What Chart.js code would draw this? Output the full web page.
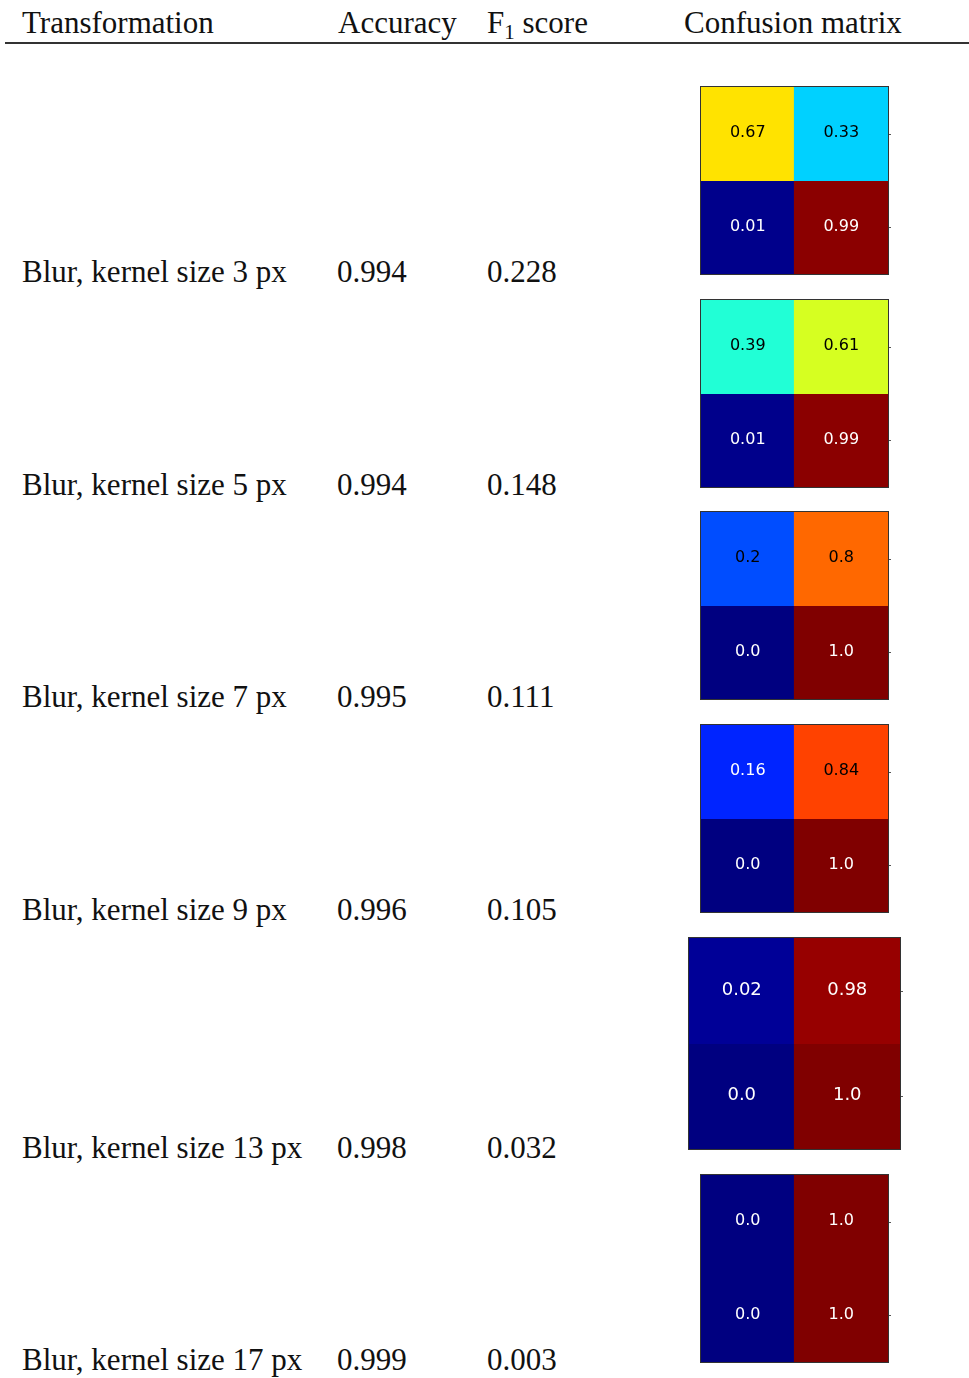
<!DOCTYPE html>
<html>
<head>
<meta charset="utf-8">
<script src="https://cdn.jsdelivr.net/npm/chart.js@4.4.1/dist/chart.umd.min.js"></script>
<style>
  html, body { margin: 0; padding: 0; background: #fff; }
  body { width: 969px; height: 1378px; position: relative; overflow: hidden;
         font-family: "Liberation Serif", "DejaVu Serif", serif; color: #111; }
  .t { position: absolute; height: 0; line-height: 0; font-size: 31px; white-space: nowrap; }
  .t sub { font-size: 21px; vertical-align: -6px; line-height: 0; }
  .rule { position: absolute; left: 5px; top: 42px; width: 964px; height: 1.6px; background: #333; }
  canvas.cm { position: absolute; }
</style>
</head>
<body>
<div class="rule"></div>
<script>
// table columns
const transformations = [
  'Blur, kernel size 3 px', 'Blur, kernel size 5 px', 'Blur, kernel size 7 px',
  'Blur, kernel size 9 px', 'Blur, kernel size 13 px', 'Blur, kernel size 17 px'
];
const accuracy = ['0.994', '0.994', '0.995', '0.996', '0.998', '0.999'];
const f1Score = ['0.228', '0.148', '0.111', '0.105', '0.032', '0.003'];

// confusion matrix cells (normalised per row)
const topLeft     = [0.67, 0.39, 0.2, 0.16, 0.02, 0.0];
const topRight    = [0.33, 0.61, 0.8, 0.84, 0.98, 1.0];
const bottomLeft  = [0.01, 0.01, 0.0, 0.0, 0.0, 0.0];
const bottomRight = [0.99, 0.99, 1.0, 1.0, 1.0, 1.0];

// layout only
const rowBaselines = [282, 495, 707, 920, 1158, 1370];
const boxes = [
  { x: 701, y: 87, s: 187, font: 16 },
  { x: 701, y: 300, s: 187, font: 16 },
  { x: 701, y: 512, s: 187, font: 16 },
  { x: 701, y: 725, s: 187, font: 16 },
  { x: 689, y: 938, s: 211, font: 18 },
  { x: 701, y: 1175, s: 187, font: 16 },
];

function addText(html, x, baseline) {
  const d = document.createElement('div');
  d.className = 't';
  d.style.left = x + 'px';
  d.style.top = (baseline - 10.5) + 'px';
  d.innerHTML = html;
  document.body.appendChild(d);
}

addText('Transformation', 22, 33.5);
addText('Accuracy', 338, 33.5);
addText('F<sub>1</sub> score', 487, 33.5);
addText('Confusion matrix', 684, 33.5);

transformations.forEach((name, i) => {
  addText(name, 22, rowBaselines[i]);
  addText(accuracy[i], 337, rowBaselines[i]);
  addText(f1Score[i], 487, rowBaselines[i]);
});

// matplotlib "jet"
function jet(v) {
  const seg = pts => {
    for (let i = 1; i < pts.length; i++) {
      if (v <= pts[i][0]) {
        const [x0, y0] = pts[i - 1], [x1, y1] = pts[i];
        return y0 + (y1 - y0) * (v - x0) / (x1 - x0);
      }
    }
    return pts[pts.length - 1][1];
  };
  const r = seg([[0, 0], [0.35, 0], [0.66, 1], [0.89, 1], [1, 0.5]]);
  const g = seg([[0, 0], [0.125, 0], [0.375, 1], [0.64, 1], [0.91, 0], [1, 0]]);
  const b = seg([[0, 0.5], [0.11, 1], [0.34, 1], [0.65, 0], [1, 0]]);
  return `rgb(${Math.round(r * 255)},${Math.round(g * 255)},${Math.round(b * 255)})`;
}

function fmt(v) {
  return Number.isInteger(v) ? v.toFixed(1) : String(v);
}

const cellLabels = {
  id: 'cellLabels',
  afterDatasetsDraw(chart, args, opts) {
    const ctx = chart.ctx;
    const a = chart.chartArea;
    ctx.save();
    ctx.font = opts.font + 'px "DejaVu Sans", sans-serif';
    ctx.textAlign = 'center';
    ctx.textBaseline = 'middle';
    chart.data.datasets.forEach((ds, di) => {
      chart.getDatasetMeta(di).data.forEach((bar, j) => {
        const v = ds.values[j];
        const cy = (bar.y + bar.base) / 2;
        ctx.fillStyle = (v < 0.18 || v > 0.9) ? '#fff' : '#000';
        ctx.fillText(fmt(v), bar.x, cy - 0.5);
        // small tick on the right edge at row centre
        if (j === 1) {
          ctx.strokeStyle = '#555';
          ctx.lineWidth = 1;
          ctx.beginPath();
          ctx.moveTo(a.right, Math.round(cy) + 0.5);
          ctx.lineTo(a.right + 3, Math.round(cy) + 0.5);
          ctx.stroke();
        }
      });
    });
    ctx.strokeStyle = '#333';
    ctx.lineWidth = 1;
    ctx.strokeRect(a.left - 0.5, a.top - 0.5, a.right - a.left + 1, a.bottom - a.top + 1);
    ctx.restore();
  }
};

boxes.forEach((bx, i) => {
  const c = document.createElement('canvas');
  c.className = 'cm';
  const w = bx.s + 6, h = bx.s + 2;
  c.width = w; c.height = h;
  c.style.width = w + 'px'; c.style.height = h + 'px';
  c.style.left = (bx.x - 1) + 'px';
  c.style.top = (bx.y - 1) + 'px';
  document.body.appendChild(c);

  new Chart(c, {
    type: 'bar',
    data: {
      labels: ['0', '1'],
      datasets: [
        {
          data: [[1, 2], [1, 2]],
          values: [topLeft[i], topRight[i]],
          backgroundColor: [jet(topLeft[i]), jet(topRight[i])],
        },
        {
          data: [[0, 1], [0, 1]],
          values: [bottomLeft[i], bottomRight[i]],
          backgroundColor: [jet(bottomLeft[i]), jet(bottomRight[i])],
        },
      ],
    },
    options: {
      responsive: false,
      maintainAspectRatio: false,
      animation: false,
      devicePixelRatio: 1,
      layout: { padding: { left: 1, top: 1, right: 5, bottom: 1 } },
      datasets: { bar: { barPercentage: 1, categoryPercentage: 1, grouped: false, borderWidth: 0, inflateAmount: 0.6 } },
      plugins: {
        legend: { display: false },
        tooltip: { enabled: false },
        cellLabels: { font: bx.font },
      },
      scales: {
        x: { display: false },
        y: { display: false, min: 0, max: 2 },
      },
    },
    plugins: [cellLabels],
  });
});
</script>
</body>
</html>
